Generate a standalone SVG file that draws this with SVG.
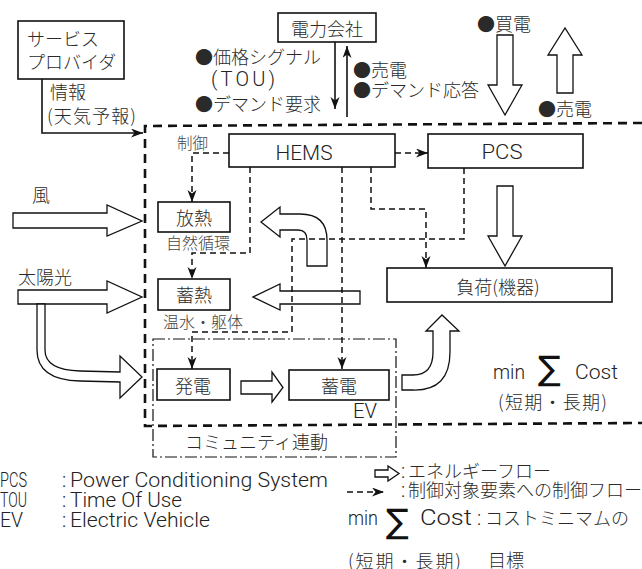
<svg xmlns="http://www.w3.org/2000/svg" width="642" height="569" viewBox="0 0 642 569">
<style>
.jp{font-family:"Noto Sans CJK JP",sans-serif;font-size:18px;font-weight:300;fill:#2a2a2a}
.en{font-family:Roboto,"Liberation Sans","Noto Sans CJK JP",sans-serif;font-size:20px;font-weight:300;fill:#222}
.sm{font-family:"Noto Sans CJK JP",sans-serif;font-size:15.5px;font-weight:300;fill:#444}
.sig{font-family:"DejaVu Sans",sans-serif;font-size:34px;fill:#111}
.box{fill:#fff;stroke:#111;stroke-width:1.6}
.blk{fill:#fff;stroke:#111;stroke-width:1.3;stroke-linejoin:miter}
.ctl{fill:none;stroke:#111;stroke-width:1.5;stroke-dasharray:6 4}
.sol{fill:none;stroke:#111;stroke-width:1.6}
.bound{fill:none;stroke:#111;stroke-width:2.6;stroke-dasharray:9 6}
.comm{fill:none;stroke:#111;stroke-width:1.2;stroke-dasharray:12 3 2 3}
</style>
<defs>
<marker id="ah" markerUnits="userSpaceOnUse" markerWidth="13" markerHeight="10" refX="12" refY="4.5" orient="auto">
<path d="M0,0 L12,4.5 L0,9 L3.5,4.5 Z" fill="#111"/>
</marker>
</defs>
<rect width="642" height="569" fill="#fff"/>

<g id="boundary">
<path class="bound" d="M642,123 L145,126 L145,426 L642,423"/>
<rect class="comm" x="153" y="339" width="243" height="118"/>
</g>

<g id="energy-arrows">
<path class="blk" d="M13,213 H107 V205 L142,221 L107,236 V228 H13 Z"/>
<path class="blk" d="M18,290 H107 V281 L142,297 L107,313 V304 H18 Z"/>
<path class="blk" d="M37,304 L37,350 Q37,380 80,381 L120,382 L120,398 L142,377 L120,356 L120,372 L80,371 Q45,370 45,350 L45,304 Z"/>
<path class="blk" d="M307,266 H327 V240 Q327,214 300,214 H280 V207 L261,222 L280,237 V230 H298 Q307,230 307,240 Z"/>
<path class="blk" d="M360,291 V304 H280 V310 L253,297 L280,284 V291 Z"/>
<path class="blk" d="M241,381 H272 V372 L283,387.5 L272,402 V394 H241 Z"/>
<path class="blk" d="M402,375 H413 Q433,375 433,352 V331 H426 L442,315 L459,331 H450 V352 Q450,391 413,390 H402 Z"/>
<path class="blk" d="M497,186 H513 V236 H522 L505,266 L488,236 H497 Z"/>
<path class="blk" d="M497,35 H513 V85 H522 L505,115 L488,85 H497 Z"/>
<path class="blk" d="M557,93 H573 V55 H582 L565,28 L548,55 H557 Z"/>
</g>

<g id="provider">
<rect class="box" x="18" y="21" width="106" height="58"/>
<text class="jp" x="27" y="46">サービス</text>
<text class="jp" x="27" y="69">プロバイダ</text>
</g>

<g id="power-company">
<rect class="box" x="278" y="13" width="98" height="29"/>
<text class="jp" x="327" y="36" text-anchor="middle">電力会社</text>
</g>

<g id="hems">
<rect class="box" x="229" y="134" width="166" height="33"/>
<text class="en" x="304" y="160" text-anchor="middle" textLength="57" lengthAdjust="spacingAndGlyphs">HEMS</text>
</g>

<g id="pcs">
<rect class="box" x="428" y="134" width="155" height="34"/>
<text class="en" x="502" y="159" text-anchor="middle" textLength="41" lengthAdjust="spacingAndGlyphs">PCS</text>
</g>

<g id="hounetsu">
<rect class="box" x="158" y="202" width="72" height="30"/>
<text class="jp" x="194" y="225" text-anchor="middle">放熱</text>
</g>

<g id="chikunetsu">
<rect class="box" x="158" y="279" width="72" height="31"/>
<text class="jp" x="194" y="302" text-anchor="middle">蓄熱</text>
</g>

<g id="load">
<rect class="box" x="387" y="268" width="225" height="34"/>
<text class="jp" x="498" y="294" text-anchor="middle">負荷(機器)</text>
</g>

<g id="hatsuden">
<rect class="box" x="157" y="369" width="73" height="31"/>
<text class="jp" x="193" y="393" text-anchor="middle">発電</text>
</g>

<g id="chikuden">
<rect class="box" x="289" y="370" width="100" height="30"/>
<text class="jp" x="339" y="393" text-anchor="middle">蓄電</text>
</g>

<g id="connectors">
<path class="sol" d="M42,79 V133 H143" marker-end="url(#ah)"/>
<path class="sol" d="M335,42 V109" marker-end="url(#ah)"/>
<path class="sol" d="M347,117 V46" marker-end="url(#ah)"/>
<path class="ctl" d="M395,153 H428" marker-end="url(#ah)"/>
<path class="ctl" d="M229,153 H192 V202" marker-end="url(#ah)"/>
<path class="ctl" d="M250,167 V253 H192 V279" marker-end="url(#ah)"/>
<path class="ctl" d="M342,167 V369" marker-end="url(#ah)"/>
<path class="ctl" d="M371,167 V209 H426 V268" marker-end="url(#ah)"/>
<path class="ctl" d="M464,168 V239 H292 V332 H192 V369" marker-end="url(#ah)"/>
</g>

<g id="labels">
<text class="jp" x="50" y="99">情報</text>
<text class="jp" x="47" y="123" textLength="89" lengthAdjust="spacing">(天気予報)</text>
<text class="jp" x="195" y="64">●価格シグナル</text>
<text class="en" x="211" y="86" textLength="64" lengthAdjust="spacing">(TOU)</text>
<text class="jp" x="195" y="111">●デマンド要求</text>
<text class="jp" x="353" y="77">●売電</text>
<text class="jp" x="353" y="97">●デマンド応答</text>
<text class="jp" x="477" y="31">●買電</text>
<text class="jp" x="538" y="116">●売電</text>
<text class="sm" x="177" y="149">制御</text>
<text class="jp" x="32" y="202">風</text>
<text class="jp" x="18" y="284">太陽光</text>
<text class="sm" x="198" y="249" text-anchor="middle" style="font-size:16px">自然循環</text>
<text class="sm" x="163" y="328" style="font-size:16px">温水・躯体</text>
<text class="en" x="353" y="418" textLength="24" lengthAdjust="spacingAndGlyphs">EV</text>
<text class="jp" x="185" y="449">コミュニティ連動</text>
<text class="en" x="493" y="379" textLength="32" lengthAdjust="spacingAndGlyphs">min</text>
<text class="sig" x="538" y="380">∑</text>
<text class="en" x="575" y="379" textLength="43" lengthAdjust="spacingAndGlyphs">Cost</text>
<text class="jp" x="498" y="409" textLength="109" lengthAdjust="spacing">(短期・長期)</text>
</g>

<g id="legend">
<text class="en" x="0" y="487" textLength="27" lengthAdjust="spacingAndGlyphs">PCS</text>
<text class="en" x="0" y="507" textLength="27" lengthAdjust="spacingAndGlyphs">TOU</text>
<text class="en" x="0" y="527" textLength="23" lengthAdjust="spacingAndGlyphs">EV</text>
<text class="en" x="62" y="487">:</text>
<text class="en" x="62" y="507">:</text>
<text class="en" x="62" y="527">:</text>
<text class="en" x="70" y="487" textLength="258" lengthAdjust="spacingAndGlyphs">Power Conditioning System</text>
<text class="en" x="70" y="507" textLength="112" lengthAdjust="spacingAndGlyphs">Time Of Use</text>
<text class="en" x="70" y="527" textLength="140" lengthAdjust="spacingAndGlyphs">Electric Vehicle</text>
<path class="blk" d="M375,470 H388 V466 L399,473.5 L388,481 V477 H375 Z"/>
<path class="ctl" d="M347,492 H384" marker-end="url(#ah)"/>
<text class="en" x="401" y="478">:</text>
<text class="jp" x="408" y="478">エネルギーフロー</text>
<text class="en" x="401" y="497">:</text>
<text class="jp" x="408" y="497">制御対象要素への制御フロー</text>
<text class="en" x="348" y="525" textLength="30" lengthAdjust="spacingAndGlyphs">min</text>
<text class="sig" x="386" y="533">∑</text>
<text class="en" x="420" y="525" style="font-size:22px" textLength="52" lengthAdjust="spacingAndGlyphs">Cost</text>
<text class="en" x="477" y="525">:</text>
<text class="jp" x="485" y="525">コストミニマムの</text>
<text class="jp" x="488" y="567">目標</text>
<text class="jp" x="348" y="568" textLength="113" lengthAdjust="spacing">(短期・長期)</text>
</g>
</svg>
